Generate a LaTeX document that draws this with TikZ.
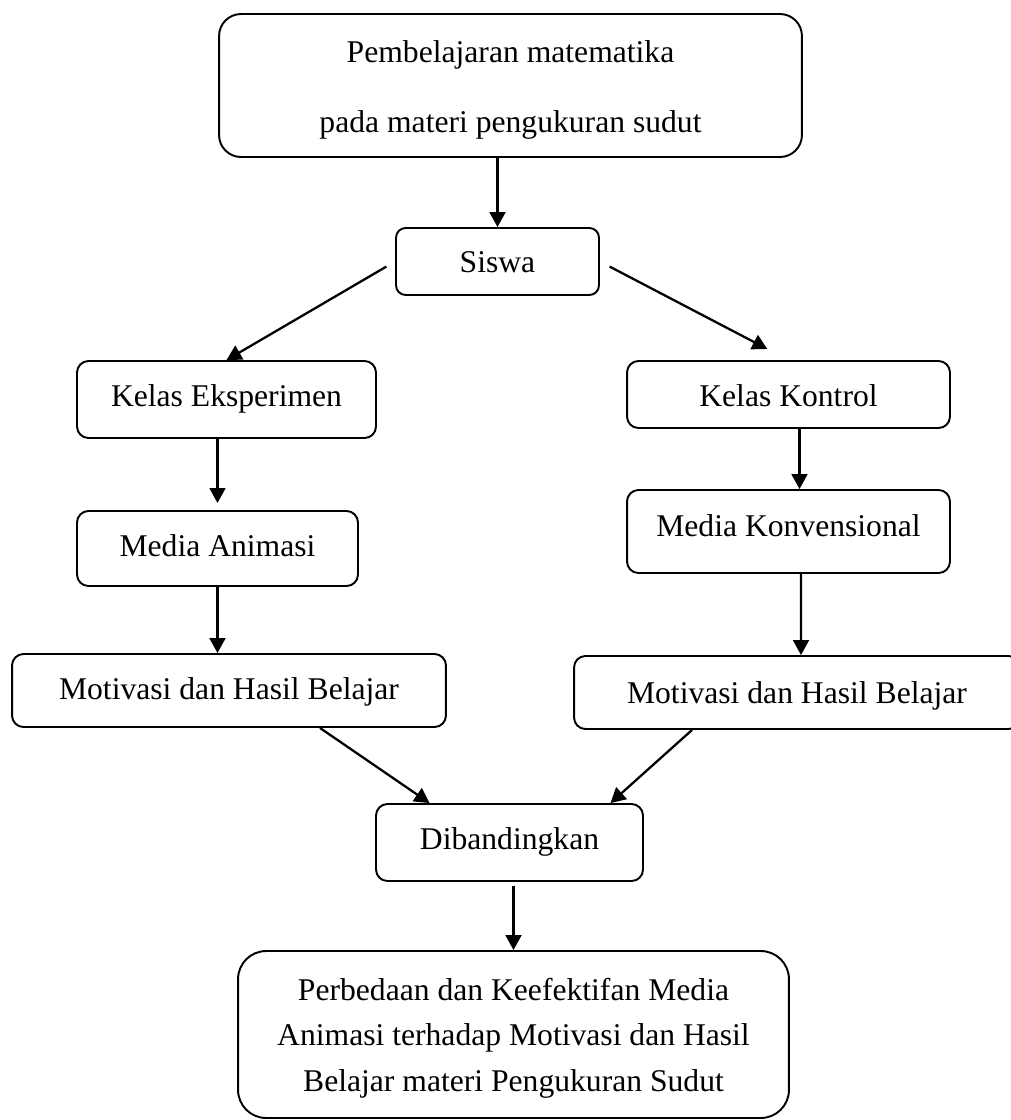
\documentclass[tikz,border=0pt]{standalone}
\usepackage{fontspec}
\setmainfont{Liberation Serif}
\usetikzlibrary{arrows.meta,calc}
\tikzset{
  kotak/.style={draw, line width=1.1pt, rounded corners=6.5pt, align=center, inner sep=0pt, font=\fontsize{18}{24}\selectfont},
  satu/.style={kotak, text height=14pt, text depth=3.5pt},
  panah/.style={-{Triangle[length=8.5pt,width=9pt]}, line width=1.3pt}
}
\begin{document}
\begin{tikzpicture}[x=0.02cm, y=-0.02cm]
\useasboundingbox (0,0) rectangle (1011,1120);
\node[kotak, rounded corners=12.5pt, minimum width=11.66cm, minimum height=2.86cm, font=\fontsize{18}{40}\selectfont] (box0) at (510.5,85.5){\rule{0pt}{17.3pt}Pembelajaran matematika\\pada materi pengukuran sudut};
\node[satu, text depth=1.2pt, rounded corners=5.5pt, minimum width=4.06cm, minimum height=1.34cm] (box1) at (497.5,261.5){Siswa};
\draw[panah] (box1.north |- box0.south) -- (box1.north);
\node[satu, text depth=6.3pt, minimum width=5.98cm, minimum height=1.54cm] (box2) at (226.5,399.5){Kelas Eksperimen};
\node[satu, text depth=0pt, minimum width=6.46cm, minimum height=1.34cm] (box3) at (788.5,394.5){Kelas Kontrol};
\draw[panah, shorten <=5.7pt] (box1.west) -- (box2.north);
\draw[panah, shorten <=6.2pt, shorten >=13.6pt] (box1.east) -- (box3.north);
\node[satu, text depth=4.4pt, minimum width=5.62cm, minimum height=1.50cm] (box4) at (217.5,548.5){Media Animasi};
\node[satu, text depth=8.8pt, minimum width=6.46cm, minimum height=1.66cm] (box5) at (788.5,531.5){Media Konvensional};
\draw[panah, shorten >=4pt] (box4.north |- box2.south) -- (box4.north);
\draw[panah] ($(box3.south)+(11,0)$) -- ($(box5.north)+(11,0)$);
\node[satu, minimum width=8.68cm, minimum height=1.46cm] (box6) at (229,690.5){Motivasi dan Hasil Belajar};
\node[satu, text depth=1pt, minimum width=8.92cm, minimum height=1.46cm] (box7) at (797,692.5){Motivasi dan Hasil Belajar};
\draw[panah] (box4.south) -- (box4.south |- box6.north);
\draw[panah] ($(box5.south)+(12.5,0)$) -- ($(box7.north)+(4,0)$);
\node[satu, text depth=6.5pt, minimum width=5.34cm, minimum height=1.54cm] (box8) at (509.5,842.5){Dibandingkan};
\draw[panah] ($(box6.south)+(91,0)$) -- ($(box8.north)+(-80,0)$);
\draw[panah] ($(box7.south)+(-105,0)$) -- ($(box8.north)+(101,0)$);
\node[kotak, rounded corners=16pt, minimum width=11.02cm, minimum height=3.34cm, font=\fontsize{18}{26}\selectfont] (box9) at (513.5,1034.5){\rule{0pt}{16.7pt}Perbedaan dan Keefektifan Media\\Animasi terhadap Motivasi dan Hasil\\Belajar materi Pengukuran Sudut};
\draw[panah, shorten <=2.3pt] (box9.north |- box8.south) -- (box9.north);
\end{tikzpicture}
\end{document}
